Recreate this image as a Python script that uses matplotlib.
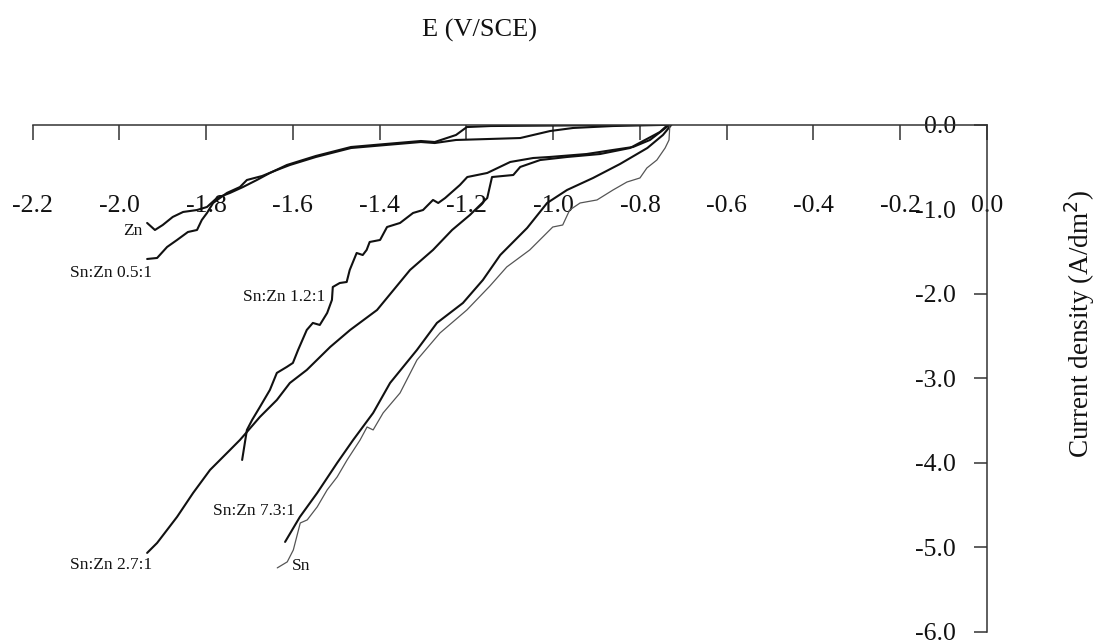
import matplotlib
matplotlib.use("Agg")
import matplotlib.pyplot as plt

plt.rcParams['font.family'] = ['Liberation Serif', 'DejaVu Serif']
plt.rcParams['axes.unicode_minus'] = False

# ---------------- data (E in V/SCE, current density in A/dm^2) ----------------
zn_e = [-1.936, -1.918, -1.900, -1.877, -1.853, -1.821, -1.798, -1.775, -1.745, -1.715,
        -1.683, -1.653, -1.614, -1.547, -1.466, -1.385, -1.305, -1.273, -1.224, -1.199,
        -1.144, -0.985, -0.846, -0.735]
zn_i = [-1.164, -1.247, -1.188, -1.093, -1.034, -1.011, -0.975, -0.868, -0.809, -0.739,
        -0.656, -0.573, -0.479, -0.372, -0.266, -0.230, -0.195, -0.207, -0.124, -0.030,
        -0.018, -0.012, -0.006, 0.0]

r05_e = [-1.936, -1.913, -1.890, -1.867, -1.842, -1.821, -1.810, -1.798, -1.784, -1.752,
         -1.722, -1.706, -1.671, -1.637, -1.607, -1.547, -1.466, -1.385, -1.305, -1.273,
         -1.224, -1.146, -1.076, -1.007, -0.954, -0.862, -0.754, -0.731]
r05_i = [-1.590, -1.578, -1.448, -1.365, -1.271, -1.247, -1.129, -1.046, -0.928, -0.809,
         -0.739, -0.656, -0.609, -0.538, -0.479, -0.384, -0.278, -0.242, -0.207, -0.219,
         -0.183, -0.171, -0.160, -0.077, -0.041, -0.018, -0.006, 0.0]

r12_e = [-1.717, -1.706, -1.694, -1.676, -1.653, -1.637, -1.614, -1.600, -1.588, -1.568,
         -1.554, -1.538, -1.521, -1.510, -1.508, -1.492, -1.476, -1.469, -1.453, -1.439,
         -1.430, -1.423, -1.399, -1.383, -1.353, -1.323, -1.300, -1.277, -1.265, -1.249,
         -1.215, -1.198, -1.152, -1.099, -1.046, -1.008, -0.923, -0.862, -0.816, -0.777,
         -0.747, -0.731]
r12_i = [-3.966, -3.611, -3.493, -3.339, -3.138, -2.937, -2.866, -2.819, -2.665, -2.429,
         -2.346, -2.370, -2.228, -2.074, -1.921, -1.874, -1.862, -1.720, -1.519, -1.543,
         -1.483, -1.389, -1.365, -1.212, -1.164, -1.046, -1.011, -0.892, -0.928, -0.869,
         -0.715, -0.621, -0.573, -0.443, -0.396, -0.384, -0.349, -0.301, -0.266, -0.183,
         -0.065, 0.0]

r27_e = [-1.936, -1.913, -1.867, -1.830, -1.791, -1.768, -1.745, -1.722, -1.706, -1.676,
         -1.637, -1.607, -1.568, -1.514, -1.468, -1.406, -1.330, -1.277, -1.233, -1.192,
         -1.152, -1.141, -1.092, -1.076, -1.030, -0.968, -0.892, -0.823, -0.754, -0.735]
r27_i = [-5.065, -4.947, -4.639, -4.356, -4.084, -3.966, -3.848, -3.729, -3.635, -3.457,
         -3.257, -3.056, -2.902, -2.630, -2.429, -2.193, -1.720, -1.483, -1.247, -1.070,
         -0.869, -0.621, -0.597, -0.502, -0.420, -0.384, -0.349, -0.278, -0.089, 0.0]

r73_e = [-1.618, -1.584, -1.544, -1.498, -1.461, -1.415, -1.376, -1.314, -1.268, -1.208,
         -1.162, -1.122, -1.060, -1.014, -0.968, -0.908, -0.846, -0.783, -0.747, -0.727]
r73_i = [-4.935, -4.640, -4.356, -4.001, -3.729, -3.410, -3.056, -2.665, -2.346, -2.110,
         -1.838, -1.543, -1.223, -0.928, -0.774, -0.632, -0.467, -0.278, -0.124, 0.0]

sn_e = [-1.636, -1.613, -1.599, -1.583, -1.567, -1.544, -1.521, -1.498, -1.475, -1.445,
        -1.429, -1.415, -1.392, -1.353, -1.314, -1.261, -1.199, -1.146, -1.107, -1.054,
        -1.001, -0.978, -0.962, -0.938, -0.899, -0.862, -0.830, -0.800, -0.784, -0.761,
        -0.742, -0.733, -0.731]
sn_i = [-5.242, -5.171, -5.030, -4.711, -4.675, -4.521, -4.320, -4.167, -3.966, -3.729,
        -3.576, -3.611, -3.410, -3.174, -2.784, -2.465, -2.193, -1.910, -1.684, -1.483,
        -1.212, -1.188, -1.011, -0.928, -0.892, -0.774, -0.680, -0.632, -0.514, -0.420,
        -0.278, -0.183, 0.0]

series_labels = ["Zn", "Sn:Zn 0.5:1", "Sn:Zn 1.2:1", "Sn:Zn 2.7:1", "Sn:Zn 7.3:1", "Sn"]

x_ticks = [-2.2, -2.0, -1.8, -1.6, -1.4, -1.2, -1.0, -0.8, -0.6, -0.4, -0.2, 0.0]
x_ticklabels = ["-2.2", "-2.0", "-1.8", "-1.6", "-1.4", "-1.2", "-1.0", "-0.8",
                "-0.6", "-0.4", "-0.2", "0.0"]
y_ticks = [0.0, -1.0, -2.0, -3.0, -4.0, -5.0, -6.0]
y_ticklabels = ["0.0", "-1.0", "-2.0", "-3.0", "-4.0", "-5.0", "-6.0"]

# ---------------- figure ----------------
fig = plt.figure(figsize=(10.96, 6.44), dpi=100)
ax = fig.add_axes([0.029745, 0.018634, 0.870803, 0.788043])
ax.set_xlim(-2.2, 0.0)
ax.set_ylim(-6.0, 0.0)

black = "#111111"
lw = 1.5
kw = dict(solid_joinstyle="round", solid_capstyle="round")
ax.plot(zn_e, zn_i, color=black, lw=lw, **kw)
ax.plot(r05_e, r05_i, color=black, lw=lw, **kw)
ax.plot(r12_e, r12_i, color=black, lw=lw, **kw)
ax.plot(r27_e, r27_i, color=black, lw=lw, **kw)
ax.plot(r73_e, r73_i, color=black, lw=lw, **kw)
ax.plot(sn_e, sn_i, color="#555555", lw=0.9, **kw)

# curve labels anchored to curve points
ann = [
    (series_labels[0], zn_e[0], zn_i[0], (-3.6, -5.8), "right"),
    (series_labels[1], r05_e[0], r05_i[0], (3.6, -10.0), "right"),
    (series_labels[2], r12_e[13], r12_i[13], (-5.0, 2.0), "right"),
    (series_labels[3], r27_e[0], r27_i[0], (3.6, -8.6), "right"),
    (series_labels[4], r73_e[0], r73_i[0], (7.2, 22.3), "right"),
    (series_labels[5], sn_e[0], sn_i[0], (10.8, 1.4), "left"),
]
for txt, xx, yy, off, ha in ann:
    ax.annotate(txt, xy=(xx, yy), xytext=off, textcoords="offset points",
                ha=ha, va="center", fontsize=12.5, color=black)

# spines
for s in ["left", "bottom"]:
    ax.spines[s].set_visible(False)
for s in ["top", "right"]:
    ax.spines[s].set_color("#333333")
    ax.spines[s].set_linewidth(1.1)

# x ticks on top, labels pulled down inside the plot
ax.set_xticks(x_ticks)
ax.set_xticklabels(x_ticklabels)
ax.tick_params(axis="x", bottom=False, labelbottom=False, top=True, labeltop=True,
               direction="in", length=11, width=1.1, color="#333333",
               labelsize=18.5, labelcolor=black, pad=-59)
for t in ax.xaxis.get_major_ticks():
    t.label2.set_verticalalignment("center")

# y ticks on right, labels inside (left of spine)
ax.set_yticks(y_ticks)
ax.set_yticklabels(y_ticklabels)
ax.tick_params(axis="y", left=False, labelleft=False, right=True, labelright=True,
               direction="in", length=9.5, width=1.1, color="#333333",
               labelsize=18.5, labelcolor=black, pad=-22.3)
for t in ax.yaxis.get_major_ticks():
    t.label2.set_horizontalalignment("right")
ax.yaxis.get_major_ticks()[1].tick2line.set_visible(False)

# titles
fig.text(0.4375, 0.953, "E (V/SCE)", ha="center", va="center", fontsize=19, color=black)
fig.text(0.9854, 0.4969, "Current density (A/dm$^{2}$)", rotation=90,
         ha="center", va="center", fontsize=19.5, color=black)

fig.savefig("out.png", dpi=100)
